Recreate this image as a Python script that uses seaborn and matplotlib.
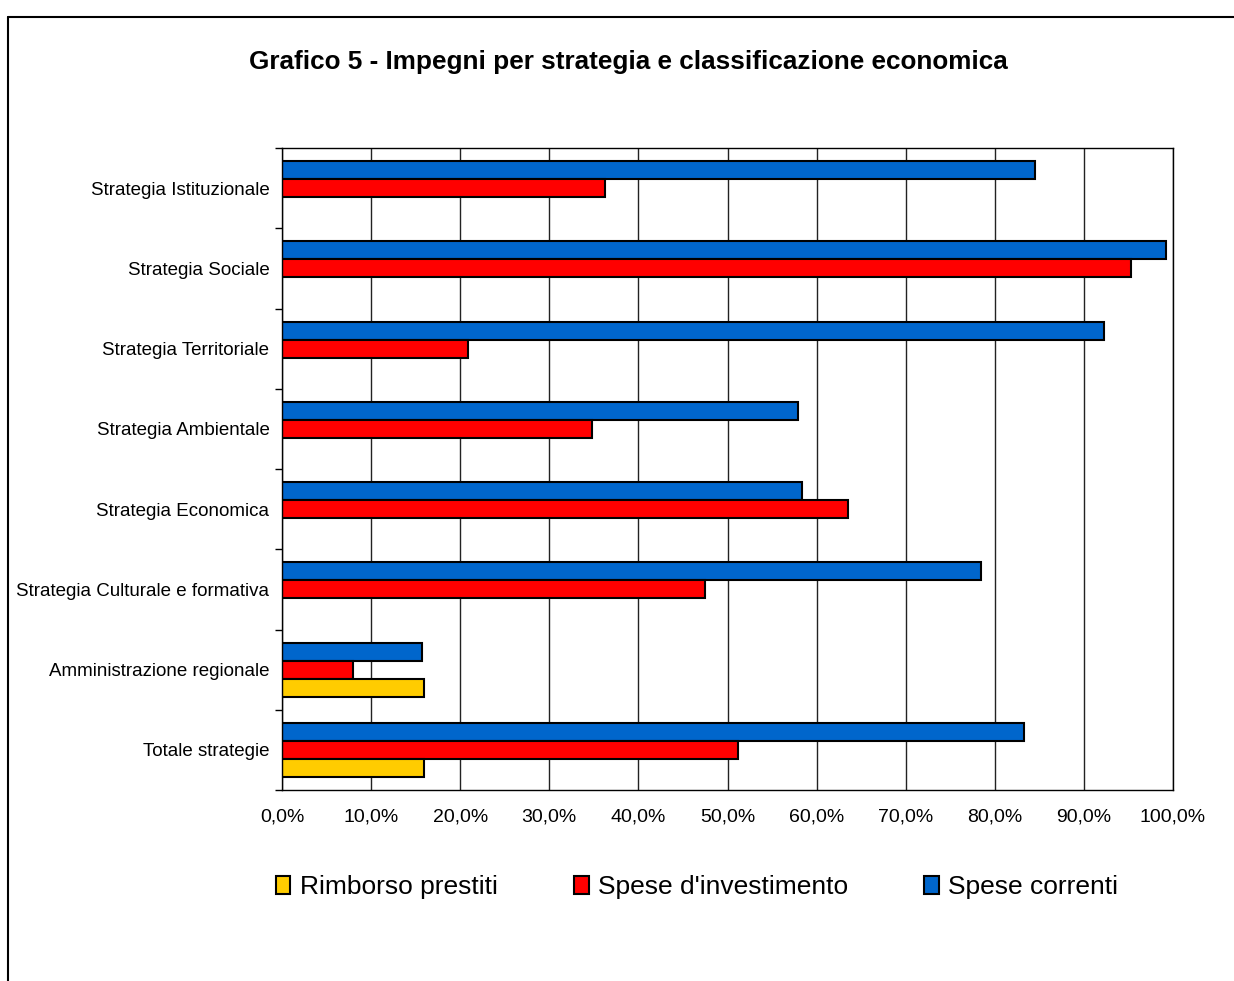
import numpy as np
import pandas as pd
import matplotlib.pyplot as plt
import seaborn as sns
from matplotlib.patches import Patch
from matplotlib.lines import Line2D
from matplotlib.ticker import FuncFormatter, FixedLocator

# Data (percent)
categories = ['Strategia Istituzionale', 'Strategia Sociale', 'Strategia Territoriale',
              'Strategia Ambientale', 'Strategia Economica', 'Strategia Culturale e formativa',
              'Amministrazione regionale', 'Totale strategie']
spese_correnti = [84.5, 99.2, 92.3, 57.9, 58.4, 78.5, 15.7, 83.3]
spese_investimento = [36.3, 95.3, 20.9, 34.8, 63.5, 47.5, 8.0, 51.2]
rimborso_prestiti = [None, None, None, None, None, None, 15.9, 15.9]

series_names = ['Spese correnti', "Spese d'investimento", 'Rimborso prestiti']
colors = {'Spese correnti': '#0066CC', "Spese d'investimento": '#FF0000', 'Rimborso prestiti': '#FFCC00'}

rows = []
for name, vals in zip(series_names, [spese_correnti, spese_investimento, rimborso_prestiti]):
    for cat, v in zip(categories, vals):
        if v is not None:
            rows.append({'Strategia': cat, 'Serie': name, 'Valore': v})
df = pd.DataFrame(rows)

sns.set_style('white')
plt.rcParams['font.family'] = ['Liberation Sans', 'DejaVu Sans']
plt.rcParams['text.color'] = 'black'
plt.rcParams['xtick.color'] = 'black'
plt.rcParams['ytick.color'] = 'black'

fig = plt.figure(figsize=(12.34, 9.81), dpi=100)
ax = fig.add_axes([282 / 1234, 1 - 790 / 981, (1173 - 282) / 1234, (790 - 148) / 981])

sns.barplot(data=df, y='Strategia', x='Valore', hue='Serie', order=categories,
            hue_order=series_names, palette=colors, saturation=1, orient='h', width=0.67,
            errorbar=None, edgecolor='black', linewidth=1.5, legend=False, ax=ax)

ax.set_xlim(0, 100)
ax.set_ylim(7.5, -0.5)
ax.set_xticks(np.arange(0, 101, 10))
ax.xaxis.set_major_formatter(FuncFormatter(lambda v, p: f'{v:.1f}%'.replace('.', ',')))
ax.grid(axis='x', color='#222222', linewidth=1)
ax.set_axisbelow(True)
ax.set_xlabel('')
ax.set_ylabel('')

for s in ax.spines.values():
    s.set_visible(True)
    s.set_color('black')
    s.set_linewidth(1)

ax.tick_params(axis='x', which='major', direction='out', length=5, width=1, color='black',
               labelsize=14, labelcolor='black', pad=8)
ax.tick_params(axis='y', which='major', length=0, labelsize=13.5, labelcolor='black', pad=9)
ax.yaxis.set_minor_locator(FixedLocator(np.arange(-0.5, 8, 1)))
ax.tick_params(axis='y', which='minor', direction='out', length=5, width=1, color='black', left=True)

fig.text(628 / 1234, 1 - 62 / 981, 'Grafico 5 - Impegni per strategia e classificazione economica',
         ha='center', va='center', fontsize=18.8, fontweight='bold', color='black')

handles = [Patch(facecolor=colors[n], edgecolor='black', linewidth=1.5) for n in reversed(series_names)]
fig.legend(handles, list(reversed(series_names)), loc='center', bbox_to_anchor=(697 / 1234, 1 - 887 / 981),
           ncol=3, frameon=False, fontsize=19, handlelength=0.55, handleheight=0.7,
           handletextpad=0.35, columnspacing=2.9, labelcolor='black')

# outer chart frame
fig.add_artist(Line2D([8 / 1234, 1], [1 - 17 / 981, 1 - 17 / 981], transform=fig.transFigure,
                      color='black', linewidth=1.5))
fig.add_artist(Line2D([8 / 1234, 8 / 1234], [0, 1 - 17 / 981], transform=fig.transFigure,
                      color='black', linewidth=1.5))

fig.savefig('out.png', dpi=100, facecolor='white')
